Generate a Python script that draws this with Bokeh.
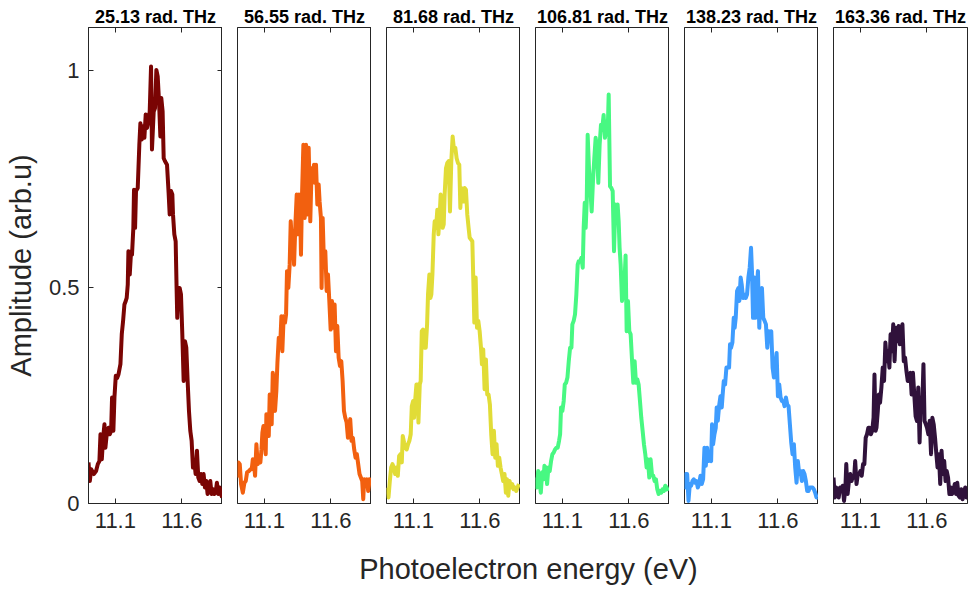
from bokeh.plotting import figure
from bokeh.layouts import row, column
from bokeh.models import Range1d, LinearAxis, FixedTicker, Label
from bokeh.embed import file_html
from bokeh.resources import INLINE

FONT = "Liberation Sans"
INK = "#262626"

# Drive frequency of each spectrum (panel titles) and line colours
TITLES = ["25.13 rad. THz", "56.55 rad. THz", "81.68 rad. THz",
          "106.81 rad. THz", "138.23 rad. THz", "163.36 rad. THz"]
COLORS = ["#7A0403", "#F2600F", "#E1DC37", "#48F882", "#3E9CFE", "#30123B"]

ENERGY_TICKS = [11.1, 11.6]
ENERGY_TICK_LABELS = {11.1: "11.1", 11.6: "11.6"}
AMP_TICKS = [0, 0.5, 1]
AMP_TICK_LABELS = {0: "0", 0.5: "0.5", 1: "1"}
ENERGY_LIMITS = (10.898, 11.905)
AMP_LIMITS = (0, 1.1)

# Photoelectron spectra: energy (eV) and normalised amplitude
E1 = [10.898, 10.908, 10.918, 10.938, 10.955, 10.968, 10.980, 10.988, 10.998, 11.008,
      11.018, 11.025, 11.035, 11.048, 11.058, 11.068, 11.075, 11.085, 11.093, 11.103,
      11.113, 11.123, 11.138, 11.148, 11.158, 11.168, 11.178, 11.185, 11.193, 11.198,
      11.208, 11.218, 11.225, 11.235, 11.240, 11.248, 11.255, 11.268, 11.280, 11.288,
      11.298, 11.308, 11.318, 11.328, 11.338, 11.348, 11.358, 11.368, 11.375, 11.388,
      11.398, 11.408, 11.418, 11.428, 11.438, 11.445, 11.455, 11.463, 11.473, 11.488,
      11.500, 11.508, 11.518, 11.528, 11.533, 11.543, 11.553, 11.560, 11.565, 11.573,
      11.583, 11.593, 11.603, 11.613, 11.623, 11.633, 11.643, 11.653, 11.663, 11.673,
      11.683, 11.693, 11.703, 11.713, 11.723, 11.733, 11.743, 11.753, 11.763, 11.773,
      11.783, 11.793, 11.803, 11.813, 11.823, 11.833, 11.843, 11.853, 11.863, 11.873,
      11.883, 11.893, 11.903]
A1 = [0.095, 0.052, 0.079, 0.068, 0.075, 0.091, 0.098, 0.160, 0.102, 0.152,
      0.183, 0.129, 0.160, 0.175, 0.160, 0.168, 0.245, 0.168, 0.245, 0.295,
      0.290, 0.298, 0.322, 0.391, 0.422, 0.460, 0.468, 0.475, 0.506, 0.583,
      0.529, 0.583, 0.575, 0.637, 0.725, 0.637, 0.722, 0.729, 0.829, 0.879,
      0.841, 0.872, 0.845, 0.899, 0.868, 0.883, 0.906, 1.010, 0.818, 0.906,
      0.914, 1.002, 0.987, 0.929, 0.848, 0.937, 0.906, 0.798, 0.791, 0.783,
      0.718, 0.668, 0.722, 0.714, 0.668, 0.622, 0.606, 0.498, 0.429, 0.498,
      0.498, 0.483, 0.391, 0.283, 0.375, 0.360, 0.283, 0.214, 0.168, 0.145,
      0.083, 0.098, 0.068, 0.122, 0.060, 0.052, 0.068, 0.045, 0.068, 0.037,
      0.052, 0.022, 0.041, 0.052, 0.022, 0.033, 0.022, 0.025, 0.048, 0.022,
      0.037, 0.022, 0.014]

E2 = [10.898, 10.905, 10.915, 10.925, 10.938, 10.950, 10.960, 10.970, 10.983, 10.995,
      11.005, 11.013, 11.020, 11.030, 11.040, 11.050, 11.060, 11.070, 11.078, 11.085,
      11.093, 11.100, 11.110, 11.115, 11.125, 11.133, 11.140, 11.148, 11.155, 11.163,
      11.173, 11.180, 11.190, 11.198, 11.208, 11.218, 11.228, 11.235, 11.245, 11.255,
      11.263, 11.270, 11.280, 11.290, 11.298, 11.308, 11.315, 11.323, 11.333, 11.343,
      11.353, 11.360, 11.368, 11.375, 11.383, 11.393, 11.403, 11.413, 11.423, 11.433,
      11.445, 11.455, 11.465, 11.473, 11.480, 11.488, 11.498, 11.508, 11.515, 11.525,
      11.530, 11.538, 11.548, 11.558, 11.568, 11.578, 11.588, 11.598, 11.608, 11.618,
      11.628, 11.638, 11.648, 11.658, 11.668, 11.678, 11.688, 11.698, 11.708, 11.718,
      11.728, 11.735, 11.745, 11.755, 11.765, 11.775, 11.785, 11.795, 11.805, 11.815,
      11.825, 11.835, 11.843, 11.850, 11.860, 11.870, 11.880, 11.890, 11.898]
A2 = [0.060, 0.095, 0.091, 0.045, 0.025, 0.048, 0.052, 0.072, 0.075, 0.079,
      0.079, 0.102, 0.098, 0.064, 0.137, 0.091, 0.102, 0.095, 0.125, 0.164,
      0.179, 0.168, 0.114, 0.206, 0.187, 0.156, 0.252, 0.218, 0.183, 0.302,
      0.275, 0.214, 0.260, 0.325, 0.383, 0.360, 0.433, 0.352, 0.433, 0.418,
      0.437, 0.537, 0.498, 0.552, 0.652, 0.598, 0.606, 0.552, 0.645, 0.714,
      0.622, 0.714, 0.698, 0.575, 0.714, 0.829, 0.660, 0.829, 0.668, 0.822,
      0.652, 0.775, 0.752, 0.783, 0.741, 0.783, 0.691, 0.737, 0.698, 0.660,
      0.498, 0.660, 0.552, 0.583, 0.491, 0.529, 0.468, 0.402, 0.468, 0.406,
      0.460, 0.352, 0.410, 0.337, 0.318, 0.329, 0.283, 0.214, 0.198, 0.187,
      0.152, 0.175, 0.195, 0.145, 0.152, 0.125, 0.106, 0.114, 0.091, 0.068,
      0.060, 0.052, 0.010, 0.056, 0.052, 0.056, 0.029, 0.052, 0.060]

E3 = [10.903, 10.913, 10.923, 10.933, 10.943, 10.953, 10.963, 10.973, 10.983, 10.993,
      11.003, 11.013, 11.020, 11.030, 11.040, 11.050, 11.060, 11.070, 11.080, 11.088,
      11.098, 11.105, 11.113, 11.123, 11.130, 11.138, 11.148, 11.155, 11.163, 11.173,
      11.183, 11.193, 11.203, 11.210, 11.220, 11.228, 11.235, 11.243, 11.253, 11.260,
      11.270, 11.280, 11.288, 11.298, 11.305, 11.313, 11.320, 11.328, 11.335, 11.345,
      11.355, 11.365, 11.375, 11.385, 11.395, 11.405, 11.415, 11.425, 11.435, 11.445,
      11.453, 11.460, 11.468, 11.475, 11.485, 11.495, 11.505, 11.515, 11.523, 11.533,
      11.543, 11.550, 11.558, 11.568, 11.578, 11.588, 11.598, 11.608, 11.615, 11.625,
      11.635, 11.645, 11.655, 11.665, 11.675, 11.685, 11.695, 11.705, 11.715, 11.725,
      11.735, 11.745, 11.755, 11.765, 11.775, 11.785, 11.795, 11.803, 11.813, 11.823,
      11.833, 11.843, 11.853, 11.863, 11.873, 11.883, 11.893]
A3 = [0.037, 0.014, 0.052, 0.083, 0.091, 0.083, 0.068, 0.083, 0.064, 0.110,
      0.114, 0.095, 0.156, 0.141, 0.129, 0.125, 0.137, 0.145, 0.160, 0.225,
      0.237, 0.198, 0.237, 0.275, 0.275, 0.187, 0.275, 0.283, 0.398, 0.402,
      0.360, 0.360, 0.414, 0.483, 0.529, 0.475, 0.483, 0.529, 0.622, 0.652,
      0.637, 0.679, 0.622, 0.668, 0.714, 0.668, 0.637, 0.645, 0.714, 0.775,
      0.787, 0.791, 0.675, 0.791, 0.848, 0.818, 0.822, 0.798, 0.787, 0.783,
      0.683, 0.729, 0.722, 0.698, 0.729, 0.725, 0.668, 0.637, 0.614, 0.610,
      0.606, 0.522, 0.418, 0.522, 0.406, 0.422, 0.398, 0.360, 0.322, 0.356,
      0.264, 0.333, 0.252, 0.252, 0.229, 0.160, 0.114, 0.168, 0.106, 0.137,
      0.087, 0.106, 0.083, 0.068, 0.052, 0.068, 0.025, 0.056, 0.018, 0.052,
      0.037, 0.045, 0.033, 0.037, 0.029, 0.037, 0.045]

E4 = [10.898, 10.908, 10.918, 10.928, 10.938, 10.948, 10.958, 10.965, 10.975, 10.985,
      10.995, 11.005, 11.015, 11.025, 11.035, 11.045, 11.055, 11.065, 11.075, 11.083,
      11.090, 11.100, 11.110, 11.118, 11.128, 11.138, 11.148, 11.158, 11.168, 11.175,
      11.185, 11.195, 11.205, 11.215, 11.223, 11.233, 11.243, 11.253, 11.260, 11.268,
      11.275, 11.283, 11.290, 11.300, 11.310, 11.320, 11.330, 11.340, 11.350, 11.360,
      11.370, 11.380, 11.390, 11.400, 11.410, 11.420, 11.430, 11.440, 11.448, 11.458,
      11.468, 11.478, 11.488, 11.498, 11.508, 11.515, 11.523, 11.530, 11.538, 11.548,
      11.558, 11.568, 11.575, 11.583, 11.593, 11.603, 11.613, 11.623, 11.633, 11.643,
      11.653, 11.663, 11.673, 11.683, 11.693, 11.703, 11.713, 11.723, 11.733, 11.743,
      11.753, 11.763, 11.773, 11.783, 11.793, 11.803, 11.813, 11.823, 11.833, 11.843,
      11.853, 11.863, 11.873, 11.883, 11.893]
A4 = [0.060, 0.037, 0.075, 0.052, 0.025, 0.072, 0.056, 0.087, 0.083, 0.045,
      0.083, 0.075, 0.098, 0.114, 0.118, 0.125, 0.129, 0.129, 0.145, 0.160,
      0.222, 0.214, 0.237, 0.275, 0.279, 0.291, 0.329, 0.360, 0.360, 0.414,
      0.422, 0.437, 0.483, 0.552, 0.560, 0.560, 0.568, 0.545, 0.637, 0.695,
      0.637, 0.698, 0.852, 0.775, 0.729, 0.675, 0.745, 0.798, 0.845, 0.822,
      0.741, 0.829, 0.875, 0.868, 0.898, 0.845, 0.883, 0.852, 0.945, 0.733,
      0.729, 0.722, 0.583, 0.691, 0.660, 0.691, 0.652, 0.591, 0.552, 0.468,
      0.491, 0.522, 0.573, 0.398, 0.468, 0.398, 0.391, 0.333, 0.279, 0.329,
      0.279, 0.287, 0.275, 0.237, 0.198, 0.168, 0.137, 0.114, 0.083, 0.102,
      0.060, 0.102, 0.068, 0.064, 0.052, 0.056, 0.033, 0.022, 0.029, 0.025,
      0.033, 0.029, 0.041, 0.037, 0.029]

E5 = [10.898, 10.908, 10.918, 10.928, 10.938, 10.948, 10.958, 10.968, 10.978, 10.988,
      10.998, 11.008, 11.018, 11.028, 11.038, 11.048, 11.058, 11.068, 11.078, 11.088,
      11.098, 11.105, 11.113, 11.123, 11.133, 11.140, 11.148, 11.158, 11.168, 11.178,
      11.185, 11.193, 11.203, 11.213, 11.223, 11.233, 11.240, 11.248, 11.258, 11.268,
      11.275, 11.283, 11.293, 11.303, 11.310, 11.320, 11.328, 11.338, 11.348, 11.358,
      11.368, 11.378, 11.388, 11.398, 11.405, 11.413, 11.423, 11.430, 11.440, 11.450,
      11.460, 11.470, 11.480, 11.490, 11.500, 11.510, 11.520, 11.530, 11.540, 11.550,
      11.560, 11.570, 11.580, 11.590, 11.600, 11.610, 11.620, 11.630, 11.640, 11.650,
      11.660, 11.670, 11.680, 11.690, 11.700, 11.710, 11.720, 11.730, 11.740, 11.750,
      11.760, 11.770, 11.780, 11.790, 11.800, 11.810, 11.820, 11.830, 11.840, 11.850,
      11.860, 11.870, 11.880, 11.890, 11.900]
A5 = [0.033, 0.068, 0.068, 0.006, 0.045, 0.041, 0.052, 0.056, 0.048, 0.052,
      0.037, 0.045, 0.064, 0.045, 0.056, 0.129, 0.087, 0.129, 0.098, 0.106,
      0.098, 0.183, 0.137, 0.160, 0.175, 0.222, 0.191, 0.225, 0.248, 0.222,
      0.252, 0.283, 0.275, 0.314, 0.314, 0.314, 0.368, 0.360, 0.372, 0.429,
      0.406, 0.429, 0.491, 0.498, 0.468, 0.522, 0.506, 0.475, 0.483, 0.475,
      0.483, 0.522, 0.545, 0.591, 0.537, 0.429, 0.522, 0.429, 0.491, 0.537,
      0.406, 0.491, 0.498, 0.429, 0.422, 0.414, 0.360, 0.398, 0.391, 0.398,
      0.314, 0.291, 0.314, 0.348, 0.248, 0.275, 0.245, 0.237, 0.237, 0.225,
      0.245, 0.229, 0.225, 0.183, 0.141, 0.114, 0.137, 0.083, 0.048, 0.098,
      0.068, 0.075, 0.052, 0.075, 0.068, 0.052, 0.029, 0.029, 0.037, 0.037,
      0.037, 0.033, 0.025, 0.014, 0.014]

E6 = [10.898, 10.908, 10.918, 10.928, 10.937, 10.947, 10.957, 10.967, 10.977, 10.987,
      10.994, 11.004, 11.014, 11.024, 11.034, 11.044, 11.053, 11.061, 11.071, 11.081,
      11.091, 11.100, 11.110, 11.120, 11.130, 11.140, 11.150, 11.160, 11.169, 11.179,
      11.189, 11.199, 11.206, 11.214, 11.221, 11.231, 11.239, 11.248, 11.258, 11.268,
      11.278, 11.288, 11.298, 11.308, 11.318, 11.327, 11.337, 11.347, 11.357, 11.367,
      11.377, 11.387, 11.397, 11.406, 11.416, 11.426, 11.436, 11.446, 11.456, 11.466,
      11.476, 11.485, 11.495, 11.505, 11.515, 11.525, 11.535, 11.545, 11.554, 11.564,
      11.574, 11.582, 11.592, 11.601, 11.611, 11.621, 11.631, 11.641, 11.651, 11.661,
      11.671, 11.680, 11.690, 11.700, 11.710, 11.720, 11.730, 11.740, 11.749, 11.759,
      11.769, 11.779, 11.789, 11.799, 11.809, 11.819, 11.828, 11.838, 11.848, 11.858,
      11.868, 11.878, 11.888, 11.898, 11.905]
A6 = [0.060, 0.014, 0.037, 0.029, 0.014, 0.037, 0.029, 0.041, 0.006, 0.033,
      0.091, 0.022, 0.052, 0.068, 0.052, 0.064, 0.060, 0.098, 0.045, 0.068,
      0.068, 0.075, 0.064, 0.091, 0.091, 0.152, 0.160, 0.175, 0.175, 0.160,
      0.168, 0.198, 0.298, 0.168, 0.175, 0.214, 0.252, 0.233, 0.268, 0.314,
      0.283, 0.372, 0.329, 0.352, 0.314, 0.391, 0.352, 0.414, 0.329, 0.406,
      0.375, 0.410, 0.368, 0.391, 0.414, 0.329, 0.337, 0.306, 0.283, 0.298,
      0.302, 0.252, 0.302, 0.252, 0.202, 0.191, 0.268, 0.141, 0.245, 0.214,
      0.322, 0.191, 0.183, 0.175, 0.160, 0.191, 0.114, 0.198, 0.183, 0.152,
      0.114, 0.083, 0.114, 0.045, 0.122, 0.068, 0.098, 0.052, 0.075, 0.060,
      0.022, 0.037, 0.022, 0.029, 0.045, 0.022, 0.048, 0.018, 0.014, 0.033,
      0.010, 0.022, 0.037, 0.014, 0.022]

ENERGIES = [E1, E2, E3, E4, E5, E6]
AMPLITUDES = [A1, A2, A3, A4, A5, A6]

# Panel geometry (pixels)
FRAME_W = 134
PANEL_H = 545
BORDER_TOP = 27
BORDER_BOTTOM = 42
LEFT_BORDERS = [88, 15, 15, 15, 15, 15]
RIGHT_BORDERS = [0, 0, 0, 0, 0, 3]
TICK_FONT_SIZE = "22px"
LABEL_FONT_SIZE = "29px"


def style_axis(ax, ticks, tick_labels, show_labels):
    ax.ticker = FixedTicker(ticks=ticks)
    ax.major_tick_in = 5
    ax.major_tick_out = 0
    ax.minor_tick_line_color = None
    ax.axis_line_color = INK
    ax.major_tick_line_color = INK
    ax.major_label_text_font = FONT
    if show_labels:
        ax.major_label_overrides = tick_labels
        ax.major_label_text_color = INK
        ax.major_label_text_font_size = TICK_FONT_SIZE
        ax.major_label_standoff = 9
    else:
        # tick marks only: labels are not painted and take almost no room
        ax.major_label_text_color = None
        ax.major_label_text_font_size = "1px"
        ax.major_label_standoff = 0


panels = []
for i in range(6):
    first = i == 0
    width = LEFT_BORDERS[i] + FRAME_W + RIGHT_BORDERS[i]
    p = figure(width=width, height=PANEL_H,
               x_range=Range1d(*ENERGY_LIMITS), y_range=Range1d(*AMP_LIMITS),
               output_backend="svg", toolbar_location=None,
               y_axis_location="left" if first else None,
               min_border_left=LEFT_BORDERS[i], min_border_right=RIGHT_BORDERS[i],
               min_border_top=BORDER_TOP, min_border_bottom=BORDER_BOTTOM)
    p.background_fill_color = "white"
    p.border_fill_color = "white"
    p.outline_line_color = INK
    p.outline_line_width = 1
    p.grid.visible = False

    p.title.text = TITLES[i]
    p.title.align = "center"
    p.title.text_font = FONT
    p.title.text_font_size = "18px"
    p.title.text_font_style = "bold"
    p.title.text_color = "black"
    p.title.standoff = 2

    style_axis(p.xaxis[0], ENERGY_TICKS, ENERGY_TICK_LABELS, True)
    top = LinearAxis()
    style_axis(top, ENERGY_TICKS, ENERGY_TICK_LABELS, False)
    p.add_layout(top, "above")

    if first:
        yax = p.yaxis[0]
        style_axis(yax, AMP_TICKS, AMP_TICK_LABELS, True)
        yax.axis_label = "Amplitude (arb.u)"
        yax.axis_label_text_font = FONT
        yax.axis_label_text_font_size = LABEL_FONT_SIZE
        yax.axis_label_text_font_style = "normal"
        yax.axis_label_text_color = INK
        yax.axis_label_standoff = 9
        right = LinearAxis()
        style_axis(right, AMP_TICKS, AMP_TICK_LABELS, False)
        p.add_layout(right, "right")

    p.line(x=ENERGIES[i], y=AMPLITUDES[i], line_color=COLORS[i],
           line_width=4, line_join="round")
    panels.append(p)

# Shared x-axis title under the row of panels
xlabel = figure(width=970, height=45, x_range=Range1d(0, 1), y_range=Range1d(0, 1),
                output_backend="svg", toolbar_location=None,
                x_axis_location=None, y_axis_location=None, min_border=0)
xlabel.outline_line_color = None
xlabel.grid.visible = False
xlabel.add_layout(Label(x=528, y=22, x_units="screen", y_units="screen",
                        text="Photoelectron energy (eV)", text_align="center",
                        text_baseline="middle", text_font=FONT,
                        text_font_size=LABEL_FONT_SIZE, text_color=INK))

layout = column(row(*panels, spacing=0), xlabel, spacing=0)

with open("out.html", "w") as f:
    f.write(file_html(layout, INLINE))
